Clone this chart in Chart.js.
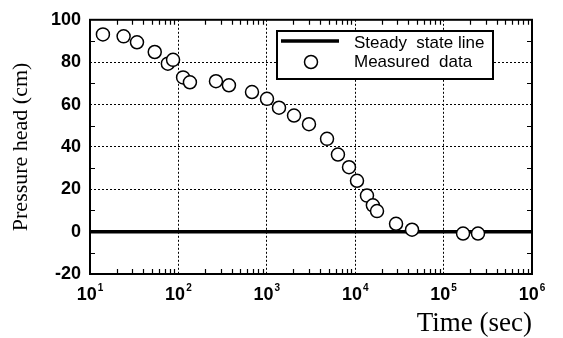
<!DOCTYPE html>
<html>
<head>
<meta charset="utf-8">
<script src="https://cdn.jsdelivr.net/npm/chart.js@4.4.1/dist/chart.umd.min.js"></script>
<style>
html, body { margin: 0; padding: 0; background: #fff; }
</style>
</head>
<body>
<canvas id="mycanvas" width="563" height="338"></canvas>
<script>
// measured pressure head vs time
var times = [14, 24, 34, 54, 76, 87, 113, 135, 266, 373, 680, 1005, 1374, 2032, 3000, 4800,
	6380, 8510, 10480, 13590, 15850, 17650, 28970, 43950, 166000, 245000];
var heads = [93.1, 92.2, 89.4, 84.8, 79.3, 81.1, 72.8, 70.5, 71, 69.1, 65.9, 62.7, 58.5, 54.8, 50.7, 43.8,
	36.4, 30.4, 24, 17, 12.4, 9.7, 3.7, 0.9, -0.9, -0.9];

// steady state line
var steadyTimes = [10, 1000000];
var steadyHeads = [0, 0];

var xTicks = [10, 100, 1000, 10000, 100000, 1000000];
var xTickBase = '10';
var xTickExponents = ['1', '2', '3', '4', '5', '6'];
var yTicks = [-20, 0, 20, 40, 60, 80, 100];
var yMinorTicks = [-10, 10, 30, 50, 70, 90];

var sans = "'Liberation Sans', Arial, sans-serif";
var serif = "'Liberation Serif', 'Times New Roman', serif";

function toPoints(xs, ys) {
	var pts = [];
	for (var i = 0; i < xs.length; i++) {
		pts.push({x: xs[i], y: ys[i]});
	}
	return pts;
}

// frame, inward minor ticks, power-of-ten labels and the boxed legend
var framePlugin = {
	id: 'frame',
	afterDatasetsDraw: function(chart) {
		var ctx = chart.ctx;
		var a = chart.chartArea;
		var xs = chart.scales.x;
		var ys = chart.scales.y;
		ctx.save();
		ctx.strokeStyle = '#000';
		ctx.lineWidth = 1.2;
		ctx.beginPath();
		for (var k = 1; k < 6; k++) {
			for (var m = 2; m < 10; m++) {
				var px = Math.round(xs.getPixelForValue(m * Math.pow(10, k))) + 0.5;
				ctx.moveTo(px, a.bottom); ctx.lineTo(px, a.bottom - 5);
				ctx.moveTo(px, a.top); ctx.lineTo(px, a.top + 5);
			}
		}
		for (var j = 0; j < yMinorTicks.length; j++) {
			var py = Math.round(ys.getPixelForValue(yMinorTicks[j])) + 0.5;
			ctx.moveTo(a.left, py); ctx.lineTo(a.left + 5, py);
			ctx.moveTo(a.right, py); ctx.lineTo(a.right - 5, py);
		}
		ctx.stroke();
		ctx.lineWidth = 2;
		ctx.strokeRect(a.left, a.top, a.right - a.left, a.bottom - a.top);

		// x tick labels as 10 with a raised exponent
		ctx.fillStyle = '#000';
		ctx.textBaseline = 'alphabetic';
		ctx.textAlign = 'left';
		for (var t = 0; t < xTicks.length; t++) {
			var cx = xs.getPixelForValue(xTicks[t]);
			ctx.font = 'bold 18px ' + sans;
			var w1 = ctx.measureText(xTickBase).width;
			ctx.font = 'bold 10px ' + sans;
			var w2 = ctx.measureText(xTickExponents[t]).width;
			var x0 = cx - (w1 + 1 + w2) / 2;
			ctx.font = 'bold 18px ' + sans;
			ctx.fillText(xTickBase, x0, a.bottom + 26);
			ctx.font = 'bold 10px ' + sans;
			ctx.fillText(xTickExponents[t], x0 + w1 + 1, a.bottom + 17);
		}
		ctx.restore();
	},
	afterDraw: function(chart) {
		var ctx = chart.ctx;
		var ds = chart.data.datasets;
		ctx.save();
		ctx.fillStyle = '#fff';
		ctx.fillRect(277, 31, 216, 48);
		ctx.strokeStyle = '#000';
		ctx.lineWidth = 2;
		ctx.strokeRect(277, 31, 216, 48);
		// line sample
		ctx.lineWidth = 3.5;
		ctx.beginPath();
		ctx.moveTo(281, 41); ctx.lineTo(339, 41);
		ctx.stroke();
		// marker sample
		ctx.lineWidth = 1.5;
		ctx.beginPath();
		ctx.arc(311, 62, 6.5, 0, Math.PI * 2);
		ctx.fill();
		ctx.stroke();
		ctx.fillStyle = '#000';
		ctx.font = '17px ' + sans;
		ctx.textBaseline = 'middle';
		ctx.fillText(ds[1].label, 354, 43);
		ctx.fillText(ds[0].label, 354, 62);
		ctx.restore();
	}
};

var ctx = document.getElementById('mycanvas');

var chart = new Chart(ctx, {
	type: 'scatter',
	data: {
		datasets: [
			{
				label: 'Measured  data',
				data: toPoints(times, heads),
				pointRadius: 6.5,
				pointBorderWidth: 1.5,
				pointBackgroundColor: '#fff',
				pointBorderColor: '#000',
				order: 0
			},
			{
				label: 'Steady  state line',
				data: toPoints(steadyTimes, steadyHeads),
				showLine: true,
				pointRadius: 0,
				borderColor: '#000',
				borderWidth: 3.5,
				order: 1
			}
		]
	},
	options: {
		responsive: false,
		animation: false,
		devicePixelRatio: 1,
		layout: {padding: {top: 16, right: 31, left: 0, bottom: 0}},
		plugins: {
			legend: {display: false},
			tooltip: {enabled: false}
		},
		scales: {
			x: {
				type: 'logarithmic',
				min: 10,
				max: 1000000,
				afterBuildTicks: function(scale) {
					scale.ticks = xTicks.map(function(v) { return {value: v}; });
				},
				afterFit: function(scale) { scale.height = 64; },
				grid: {color: '#000', lineWidth: 1, drawTicks: false},
				border: {display: false, dash: [2, 2]},
				ticks: {display: false},
				title: {
					display: true,
					text: 'Time (sec)',
					align: 'end',
					color: '#000',
					font: {family: serif, size: 27, lineHeight: 1},
					padding: {top: 0, bottom: 1}
				}
			},
			y: {
				min: -20,
				max: 100,
				afterBuildTicks: function(scale) {
					scale.ticks = yTicks.map(function(v) { return {value: v}; });
				},
				afterFit: function(scale) { scale.width = 90; },
				grid: {color: '#000', lineWidth: 1, drawTicks: false},
				border: {display: false, dash: [2, 2]},
				ticks: {
					color: '#000',
					padding: 9,
					font: {family: sans, size: 18, weight: 'bold'}
				},
				title: {
					display: true,
					text: 'Pressure head (cm)',
					color: '#000',
					font: {family: serif, size: 22, lineHeight: 1},
					padding: {top: 10, bottom: 0}
				}
			}
		}
	},
	plugins: [framePlugin]
});
</script>
</body>
</html>
